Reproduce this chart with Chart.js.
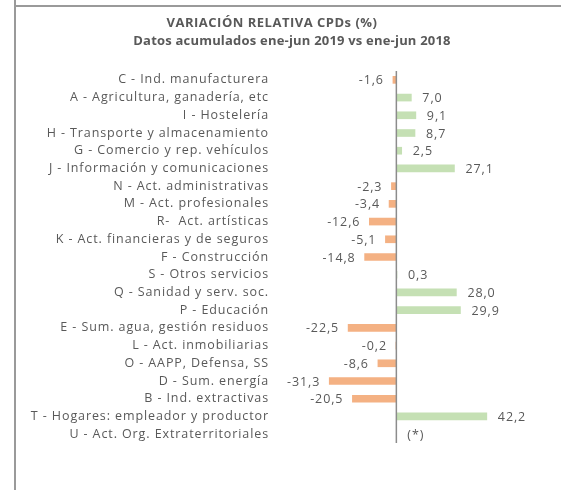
<!DOCTYPE html>
<html lang="es">
<head>
<meta charset="UTF-8">
<title>Variación relativa CPDs</title>
<script src="https://cdn.jsdelivr.net/npm/chart.js"></script>
<style>
  body { margin: 0; background: #fff; }
</style>
</head>
<body>
<canvas id="chartCPD" width="561" height="490"></canvas>
<script>
// datos
var categorias = [
    "C - Ind. manufacturera",
    "A - Agricultura, ganadería, etc",
    "I - Hostelería",
    "H - Transporte y almacenamiento",
    "G - Comercio y rep. vehículos",
    "J - Información y comunicaciones",
    "N - Act. administrativas",
    "M - Act. profesionales",
    "R-  Act. artísticas",
    "K - Act. financieras y de seguros",
    "F - Construcción",
    "S - Otros servicios",
    "Q - Sanidad y serv. soc.",
    "P - Educación",
    "E - Sum. agua, gestión residuos",
    "L - Act. inmobiliarias",
    "O - AAPP, Defensa, SS",
    "D - Sum. energía",
    "B - Ind. extractivas",
    "T - Hogares: empleador y productor",
    "U - Act. Org. Extraterritoriales"
];
var variacion = [-1.6, 7.0, 9.1, 8.7, 2.5, 27.1, -2.3, -3.4, -12.6, -5.1, -14.8, 0.3, 28.0, 29.9, -22.5, -0.2, -8.6, -31.3, -20.5, 42.2, null];
var notaSinDato = "(*)";
var titulo = ["VARIACIÓN RELATIVA CPDs (%)", "Datos acumulados ene-jun 2019 vs ene-jun 2018"];

var verde = '#C5E0B4';
var naranja = '#F4B183';
var gris = '#595959';

// marco de la celda, título y espaciado de letras
var marco = {
    id: 'marco',
    beforeDraw: function (chart) {
        var c = chart.ctx;
        c.save();
        c.strokeStyle = '#9a9a9a';
        c.lineWidth = 2;
        c.beginPath();
        c.moveTo(15, 0); c.lineTo(15, 490);
        c.moveTo(15, 6); c.lineTo(561, 6);
        c.stroke();
        // título (dos líneas)
        c.fillStyle = gris;
        c.font = 'bold 13px "Open Sans"';
        c.textAlign = 'center';
        c.textBaseline = 'middle';
        c.letterSpacing = '0.5px';
        c.fillText(titulo[0], 272, 23);
        c.letterSpacing = '0.2px';
        c.fillText(titulo[1], 292, 41);
        c.restore();
        // el texto de Excel sale más espaciado
        c.letterSpacing = '0.9px';
    },
    afterDatasetsDraw: function (chart) {
        var c = chart.ctx;
        var x = chart.scales.x;
        var y = chart.scales.y;
        var x0 = x.getPixelForValue(0);
        c.save();
        // línea del cero
        c.strokeStyle = '#8c8c8c';
        c.lineWidth = 1.5;
        c.beginPath();
        c.moveTo(x0, chart.chartArea.top);
        c.lineTo(x0, chart.chartArea.bottom);
        c.stroke();
        // etiquetas de valor
        c.fillStyle = gris;
        c.font = '12.5px "Open Sans"';
        c.letterSpacing = '0.9px';
        c.textBaseline = 'middle';
        variacion.forEach(function (v, i) {
            var py = y.getPixelForValue(i) + 1;
            if (v === null) {
                c.textAlign = 'left';
                c.fillText(notaSinDato, x0 + 11, py);
                return;
            }
            var txt = v.toFixed(1).replace('.', ',');
            var px = x.getPixelForValue(v);
            if (v >= 0) {
                c.textAlign = 'left';
                c.fillText(txt, px + 11, py);
            } else {
                c.textAlign = 'right';
                c.fillText(txt, px - 9, py);
            }
        });
        c.restore();
    }
};

var ctx = document.getElementById("chartCPD").getContext("2d");
var config = {
    type: 'bar',
    data: {
        labels: categorias,
        datasets: [{
            data: variacion,
            backgroundColor: variacion.map(function (v) { return v !== null && v < 0 ? naranja : verde; }),
            barThickness: 7,
            borderWidth: 0
        }]
    },
    options: {
        indexAxis: 'y',
        responsive: false,
        animation: false,
        layout: { padding: { left: 0, right: 21, top: 71, bottom: 47 } },
        plugins: {
            legend: { display: false },
            tooltip: { enabled: false }
        },
        scales: {
            x: {
                display: false,
                min: -58,
                max: 67
            },
            y: {
                grid: { display: false, drawTicks: false },
                border: { display: false },
                afterFit: function (scale) { scale.width = 272; },
                ticks: {
                    color: gris,
                    padding: 3,
                    autoSkip: false,
                    font: { family: '"Open Sans"', size: 12.5 }
                }
            }
        }
    },
    plugins: [marco]
};
var grafico = new Chart(ctx, config);
</script>
</body>
</html>
